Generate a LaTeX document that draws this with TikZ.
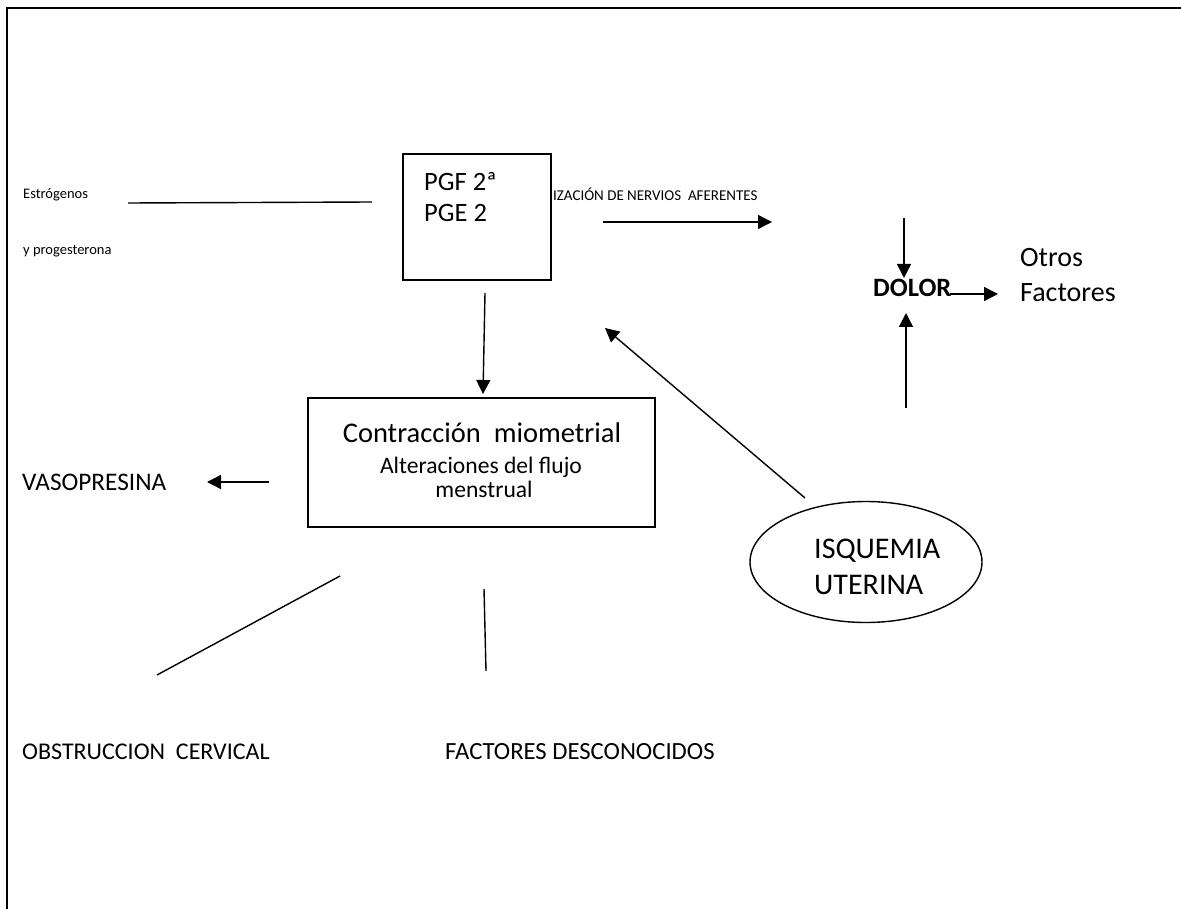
\documentclass[tikz,border=0pt]{standalone}
\usepackage{fontspec}
\setmainfont{Carlito}
\usetikzlibrary{arrows.meta,shapes.geometric}

\newcommand{\sz}[1]{\fontsize{#1}{#1}\selectfont}

\tikzset{
  line/.style={line width=1.4pt},
  arr/.style={line width=1.4pt,-{Triangle[length=14pt,width=14pt]}},
  lbl/.style={inner sep=0pt,anchor=base west},
  clbl/.style={inner sep=0pt,anchor=base},
  boxnode/.style={draw,line width=1.5pt,inner sep=0pt,fill=white},
}

\begin{document}
\begin{tikzpicture}[x=1pt,y=-1pt]
\useasboundingbox (0,0) rectangle (1181,909);

% frame
\draw[line width=2.5pt] (7,912) -- (7,8) -- (1186,8);

% boxes
\node[boxnode,minimum width=148pt,minimum height=126pt] (pgf) at (477,217) {};
\node[boxnode,minimum width=347pt,minimum height=129pt] (contr) at (481.5,462.5) {};
\node[boxnode,ellipse,line width=1.4pt,minimum width=232pt,minimum height=121pt] (isq) at (866,562) {};

% texts
\node[lbl,font=\sz{14.5}] (estr) at (23,199) {Estrógenos};
\node[lbl,font=\sz{14.5}] (prog) at (23,255) {y progesterona};
\node[lbl,font=\sz{15}] (nerv) at (553,201) {IZACIÓN DE NERVIOS\ \ AFERENTES};
\node[lbl,font=\sz{26.5}] (pgfa) at (424,191) {PGF 2ª};
\node[lbl,font=\sz{26.5}] (pgfb) at (424,222) {PGE 2};
\node[lbl,font=\sz{26.5}\bfseries] (dolor) at (873,297) {DOLOR};
\node[lbl,font=\sz{28}] (otros) at (1020,267) {Otros};
\node[lbl,font=\sz{28}] (fact) at (1020,302) {Factores};
\node[clbl,font=\sz{28.5}] (contra) at (482,442) {Contracción\ \ miometrial};
\node[clbl,font=\sz{23.6}] (alter) at (481,473) {Alteraciones del flujo};
\node[clbl,font=\sz{23.6}] (menst) at (484,497) {menstrual};
\node[lbl,font=\sz{25.3}] (vaso) at (22,490) {VASOPRESINA};
\node[lbl,font=\sz{30}] (isqa) at (814,558) {ISQUEMIA};
\node[lbl,font=\sz{30}] (isqb) at (814,594) {UTERINA};
\node[lbl,font=\sz{24}] (obstr) at (22,759) {OBSTRUCCION\ \ CERVICAL};
\node[lbl,font=\sz{24.7}] (desc) at (445,759) {FACTORES DESCONOCIDOS};

% connector ends
\coordinate (estr-a) at (128,203);
\coordinate (estr-b) at (372,202);
\coordinate (nerv-a) at (603,222);
\coordinate (nerv-b) at (772,222);
\coordinate (dol-top) at (904,218);
\coordinate (dol-in) at (904,278);
\coordinate (dol-out) at (950,294);
\coordinate (otros-in) at (998,294);
\coordinate (dol-bot) at (906,408);
\coordinate (dol-up) at (906,313);
\coordinate (pgf-out) at (485,293);
\coordinate (contr-in) at (483,394);
\coordinate (isq-out) at (805,498);
\coordinate (pgf-in) at (605,328);
\coordinate (vaso-a) at (269,482);
\coordinate (vaso-b) at (207,482);
\coordinate (obstr-a) at (340,576);
\coordinate (obstr-b) at (157,675);
\coordinate (desc-a) at (484,589);
\coordinate (desc-b) at (486,671);

\draw[line] (estr-a) -- (estr-b);
\draw[arr] (nerv-a) -- (nerv-b);
\draw[arr] (dol-top) -- (dol-in);
\draw[arr] (dol-out) -- (otros-in);
\draw[arr] (dol-bot) -- (dol-up);
\draw[arr] (pgf-out) -- (contr-in);
\draw[arr] (isq-out) -- (pgf-in);
\draw[arr] (vaso-a) -- (vaso-b);
\draw[line] (obstr-a) -- (obstr-b);
\draw[line] (desc-a) -- (desc-b);
\end{tikzpicture}
\end{document}
